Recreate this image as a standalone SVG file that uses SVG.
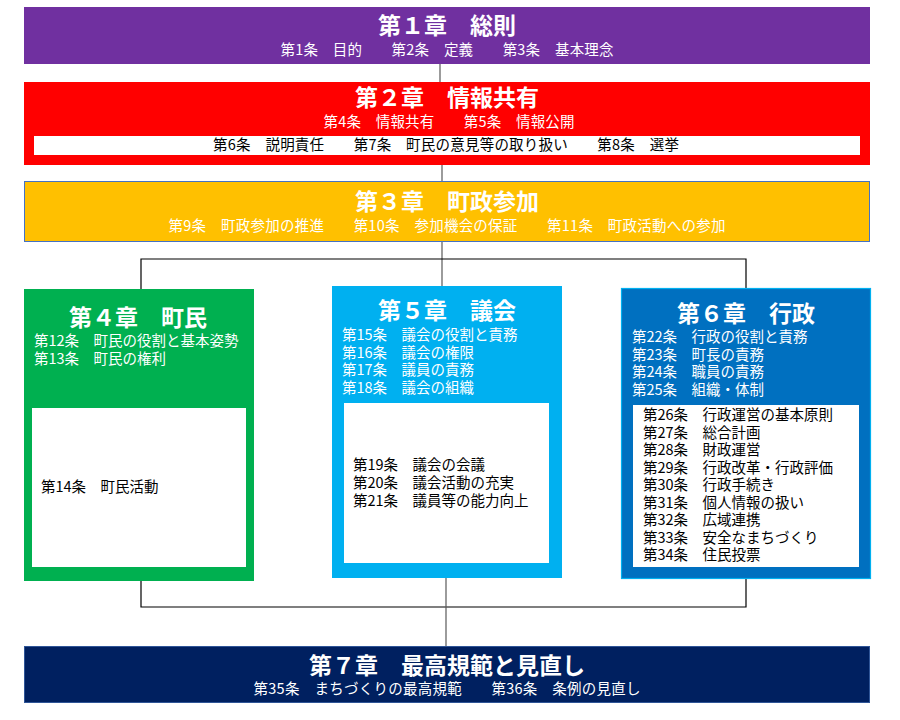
<svg xmlns="http://www.w3.org/2000/svg" width="900" height="720" viewBox="0 0 900 720">
<style>
text{font-family:"Noto Sans CJK JP","Noto Sans",sans-serif}
.t{font-size:23px;font-weight:bold;fill:#fff;text-anchor:middle}
.s{font-size:14.5px;fill:#fff}
.c{text-anchor:middle}
.k{font-size:14.5px;fill:#000}
.ln{stroke:#000;stroke-width:1.2;fill:none}
.lg{stroke:#595959;stroke-width:1.2;fill:none}
</style>
<rect width="900" height="720" fill="#fff"/>
<g id="connectors">
<line class="lg" x1="440" y1="64" x2="440" y2="82"/>
<line class="lg" x1="442" y1="165" x2="442" y2="181"/>
<line class="lg" x1="442" y1="242" x2="442" y2="286"/>
<polyline class="ln" points="141,290 141,259 746,259 746,288"/>
<polyline class="ln" points="141,581 141,607 746,607 746,579"/>
<line class="lg" x1="446" y1="578" x2="446" y2="646"/>
</g>
<g id="ch1">
<rect x="24" y="7" width="846" height="57" fill="#7030A0"/>
<text class="t" x="447" y="34">第１章　総則</text>
<text class="s c" x="447" y="55" fill="#f2f2f2" textLength="333">第1条　目的　　第2条　定義　　第3条　基本理念</text>
</g>
<g id="ch2">
<rect x="24" y="82" width="846" height="83" fill="#FF0000"/>
<text class="t" x="447" y="106">第２章　情報共有</text>
<text class="s c" x="449" y="127" textLength="251">第4条　情報共有　　第5条　情報公開</text>
<rect x="34" y="136" width="826" height="19" fill="#fff"/>
<text class="k c" x="446" y="150" textLength="466">第6条　説明責任　　第7条　町民の意見等の取り扱い　　第8条　選挙</text>
</g>
<g id="ch3">
<rect x="24.5" y="181.5" width="845" height="60" fill="#FFC000" stroke="#4472C4" stroke-width="1"/>
<text class="t" x="447" y="210">第３章　町政参加</text>
<text class="s c" x="447" y="231" fill="#FFF2CC" textLength="557">第9条　町政参加の推進　　第10条　参加機会の保証　　第11条　町政活動への参加</text>
</g>
<g id="ch4">
<rect x="24" y="289" width="230" height="292" fill="#00B050"/>
<text class="t" x="138" y="326">第４章　町民</text>
<text class="s" x="34" y="346" fill="#E2F0D9">第12条　町民の役割と基本姿勢</text>
<text class="s" x="34" y="364" fill="#E2F0D9">第13条　町民の権利</text>
<rect x="32" y="408" width="214" height="159" fill="#fff"/>
<text class="k" x="41" y="492">第14条　町民活動</text>
</g>
<g id="ch5">
<rect x="332" y="286" width="230" height="292" fill="#00B0F0"/>
<text class="t" x="447" y="319">第５章　議会</text>
<text class="s" x="342" y="340">第15条　議会の役割と責務</text>
<text class="s" x="342" y="358">第16条　議会の権限</text>
<text class="s" x="342" y="375">第17条　議員の責務</text>
<text class="s" x="342" y="393">第18条　議会の組織</text>
<rect x="344" y="403" width="205" height="160" fill="#fff"/>
<text class="k" x="353" y="470">第19条　議会の会議</text>
<text class="k" x="353" y="488">第20条　議会活動の充実</text>
<text class="k" x="353" y="506">第21条　議員等の能力向上</text>
</g>
<g id="ch6">
<rect x="621.5" y="288.5" width="249" height="290" fill="#0070C0" stroke="#00B0F0" stroke-width="1.2"/>
<text class="t" x="746" y="322">第６章　行政</text>
<text class="s" x="632" y="342" fill="#DEEBF7">第22条　行政の役割と責務</text>
<text class="s" x="632" y="360" fill="#DEEBF7">第23条　町長の責務</text>
<text class="s" x="632" y="377" fill="#DEEBF7">第24条　職員の責務</text>
<text class="s" x="632" y="395" fill="#DEEBF7">第25条　組織・体制</text>
<rect x="633" y="405" width="226" height="162" fill="#fff"/>
<text class="k" x="643" y="420">第26条　行政運営の基本原則</text>
<text class="k" x="643" y="437.5">第27条　総合計画</text>
<text class="k" x="643" y="455">第28条　財政運営</text>
<text class="k" x="643" y="472.5">第29条　行政改革・行政評価</text>
<text class="k" x="643" y="490">第30条　行政手続き</text>
<text class="k" x="643" y="507.5">第31条　個人情報の扱い</text>
<text class="k" x="643" y="525">第32条　広域連携</text>
<text class="k" x="643" y="542.5">第33条　安全なまちづくり</text>
<text class="k" x="643" y="560">第34条　住民投票</text>
</g>
<g id="ch7">
<rect x="24.5" y="646.5" width="845" height="56" fill="#002060" stroke="#2F5597" stroke-width="1"/>
<text class="t" x="447" y="674">第７章　最高規範と見直し</text>
<text class="s c" x="447" y="694" fill="#f2f2f2" textLength="387">第35条　まちづくりの最高規範　　第36条　条例の見直し</text>
</g>
</svg>
